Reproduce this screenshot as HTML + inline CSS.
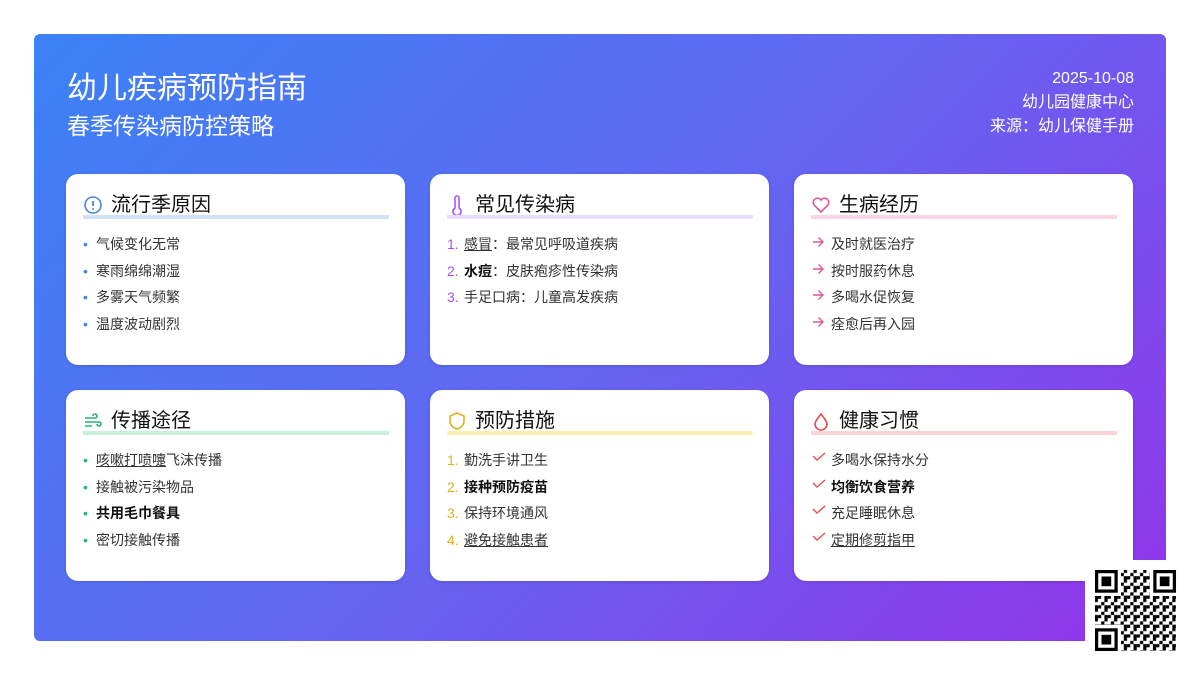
<!DOCTYPE html>
<html><head><meta charset="utf-8"><style>
*{margin:0;padding:0;box-sizing:border-box}
body{width:1200px;height:675px;background:#fff;position:relative;overflow:hidden;font-family:"Liberation Sans","Noto Sans CJK SC",sans-serif}
.panel{position:absolute;left:34px;top:34px;width:1132px;height:607px;border-radius:6px;background:linear-gradient(135deg,#3b82f6 0%,#6366f1 50%,#9333ea 100%)}
.t1{position:absolute;left:67px;top:63px;font-size:30px;color:#fff}
.t2{position:absolute;left:67px;top:107px;font-size:23px;color:#fff}
.rt{position:absolute;right:66px;top:67px;text-align:right;color:#fff;font-size:16px;line-height:24px}
.card{position:absolute;width:339px;height:191px;background:#fff;border-radius:12px;box-shadow:0 1px 3px rgba(0,0,0,.15)}
.hd{position:absolute;left:17px;top:17px;width:306px;height:28px;font-size:20px;color:#111}
.hd svg{position:absolute;left:0;top:4px}
.hd span{position:absolute;left:28px;top:0;line-height:28px}
.ul{position:absolute;left:17px;top:41px;width:306px;height:4px}
.items{position:absolute;left:17px;top:57px;font-size:14px;color:#333;line-height:26.7px}
.items div{white-space:nowrap;position:relative;padding-left:13px}
.items i{position:absolute;left:0;top:0;font-style:normal}
.items.num div{padding-left:17px}
.items.ic div{padding-left:20px}
.items svg{position:absolute;left:1px;top:5px}
.b{font-weight:bold;color:#111}
.u{text-decoration:underline}
.qrw{position:absolute;left:1085px;top:560px;width:115px;height:115px;background:#fff}
</style></head><body>
<div class="panel"></div>
<div class="t1">幼儿疾病预防指南</div>
<div class="t2">春季传染病防控策略</div>
<div class="rt">2025-10-08<br>幼儿园健康中心<br>来源：幼儿保健手册</div>

<div class="card" style="left:66px;top:174px">
<div class="hd"><svg width="20" height="20" viewBox="0 0 20 20"><circle cx="10" cy="10" r="8" fill="none" stroke="#4a86d8" stroke-width="1.6"/><line x1="10" y1="6" x2="10" y2="11" stroke="#4a86d8" stroke-width="1.8"/><circle cx="10" cy="14" r="1" fill="#4a86d8"/></svg><span>流行季原因</span></div>
<div class="ul" style="background:#cfe2f6"></div>
<div class="items"><div><i style="color:#4a86d8">•</i>气候变化无常</div><div><i style="color:#4a86d8">•</i>寒雨绵绵潮湿</div><div><i style="color:#4a86d8">•</i>多雾天气频繁</div><div><i style="color:#4a86d8">•</i>温度波动剧烈</div></div>
</div>

<div class="card" style="left:430px;top:174px">
<div class="hd"><svg width="20" height="22" viewBox="0 0 20 22"><path d="M8 3a2 2 0 0 1 4 0v10a4 4 0 1 1-4 0z" fill="none" stroke="#a855f7" stroke-width="1.6"/></svg><span>常见传染病</span></div>
<div class="ul" style="background:#eadcfb"></div>
<div class="items num"><div><i style="color:#a855f7">1.</i><span class="u">感冒</span>：最常见呼吸道疾病</div><div><i style="color:#a855f7">2.</i><span class="b">水痘</span>：皮肤疱疹性传染病</div><div><i style="color:#a855f7">3.</i>手足口病：儿童高发疾病</div></div>
</div>

<div class="card" style="left:794px;top:174px">
<div class="hd"><svg width="20" height="20" viewBox="0 0 20 20"><path d="M10 17l-7-7a4 4 0 0 1 7-5 4 4 0 0 1 7 5z" fill="none" stroke="#e0559a" stroke-width="1.6"/></svg><span>生病经历</span></div>
<div class="ul" style="background:#fbd5e6"></div>
<div class="items ic">
<div><svg width="12" height="12" viewBox="0 0 12 12"><path d="M1 6h10M6.5 1.5L11 6 6.5 10.5" fill="none" stroke="#e0559a" stroke-width="1.4"/></svg>及时就医治疗</div>
<div><svg width="12" height="12" viewBox="0 0 12 12"><path d="M1 6h10M6.5 1.5L11 6 6.5 10.5" fill="none" stroke="#e0559a" stroke-width="1.4"/></svg>按时服药休息</div>
<div><svg width="12" height="12" viewBox="0 0 12 12"><path d="M1 6h10M6.5 1.5L11 6 6.5 10.5" fill="none" stroke="#e0559a" stroke-width="1.4"/></svg>多喝水促恢复</div>
<div><svg width="12" height="12" viewBox="0 0 12 12"><path d="M1 6h10M6.5 1.5L11 6 6.5 10.5" fill="none" stroke="#e0559a" stroke-width="1.4"/></svg>痊愈后再入园</div></div>
</div>

<div class="card" style="left:66px;top:390px">
<div class="hd"><svg width="20" height="20" viewBox="0 0 20 20"><path d="M2 7h10a2 2 0 1 0-2-2M2 11h14a2 2 0 1 1-2 2M2 15h7" fill="none" stroke="#22b573" stroke-width="1.6"/></svg><span>传播途径</span></div>
<div class="ul" style="background:#c9f0da"></div>
<div class="items"><div><i style="color:#22b573">•</i><span class="u">咳嗽打喷嚏</span>飞沫传播</div><div><i style="color:#22b573">•</i>接触被污染物品</div><div><i style="color:#22b573">•</i><span class="b">共用毛巾餐具</span></div><div><i style="color:#22b573">•</i>密切接触传播</div></div>
</div>

<div class="card" style="left:430px;top:390px">
<div class="hd"><svg width="20" height="20" viewBox="0 0 20 20"><path d="M10 2l7 3v5c0 4-3 7-7 8-4-1-7-4-7-8V5z" fill="none" stroke="#e0b020" stroke-width="1.6"/></svg><span>预防措施</span></div>
<div class="ul" style="background:#fbf0b0"></div>
<div class="items num"><div><i style="color:#e0b020">1.</i>勤洗手讲卫生</div><div><i style="color:#e0b020">2.</i><span class="b">接种预防疫苗</span></div><div><i style="color:#e0b020">3.</i>保持环境通风</div><div><i style="color:#e0b020">4.</i><span class="u">避免接触患者</span></div></div>
</div>

<div class="card" style="left:794px;top:390px">
<div class="hd"><svg width="20" height="20" viewBox="0 0 20 20"><path d="M10 3c3 4 6 7 6 10a6 6 0 0 1-12 0c0-3 3-6 6-10z" fill="none" stroke="#e05050" stroke-width="1.6"/></svg><span>健康习惯</span></div>
<div class="ul" style="background:#fbd5d5"></div>
<div class="items ic">
<div><svg width="14" height="10" viewBox="0 0 14 10"><path d="M1 4l4 4 8-7" fill="none" stroke="#e05050" stroke-width="1.4"/></svg>多喝水保持水分</div>
<div><svg width="14" height="10" viewBox="0 0 14 10"><path d="M1 4l4 4 8-7" fill="none" stroke="#e05050" stroke-width="1.4"/></svg><span class="b">均衡饮食营养</span></div>
<div><svg width="14" height="10" viewBox="0 0 14 10"><path d="M1 4l4 4 8-7" fill="none" stroke="#e05050" stroke-width="1.4"/></svg>充足睡眠休息</div>
<div><svg width="14" height="10" viewBox="0 0 14 10"><path d="M1 4l4 4 8-7" fill="none" stroke="#e05050" stroke-width="1.4"/></svg><span class="u">定期修剪指甲</span></div></div>
</div>

<div class="qrw">
<svg width="115" height="115" viewBox="0 0 115 115">
<defs><pattern id="p" width="9.7" height="9.7" patternUnits="userSpaceOnUse"><rect width="3.24" height="3.24" fill="#000"/><rect x="6.48" y="3.24" width="3.24" height="3.24" fill="#000"/><rect x="3.24" y="6.48" width="3.24" height="3.24" fill="#000"/><rect x="0" y="6.48" width="3.24" height="3.24" fill="#000"/></pattern></defs>
<rect x="10" y="10" width="81" height="81" fill="url(#p)"/>
<g fill="#fff"><rect x="10" y="10" width="26" height="26"/><rect x="65" y="10" width="26" height="26"/><rect x="10" y="65" width="26" height="26"/></g>
<g fill="none" stroke="#000" stroke-width="3.24"><rect x="11.6" y="11.6" width="19.5" height="19.5"/><rect x="69.9" y="11.6" width="19.5" height="19.5"/><rect x="11.6" y="69.9" width="19.5" height="19.5"/></g>
<g fill="#000"><rect x="16.5" y="16.5" width="9.7" height="9.7"/><rect x="74.8" y="16.5" width="9.7" height="9.7"/><rect x="16.5" y="74.8" width="9.7" height="9.7"/></g>
</svg>
</div>
</body></html>
